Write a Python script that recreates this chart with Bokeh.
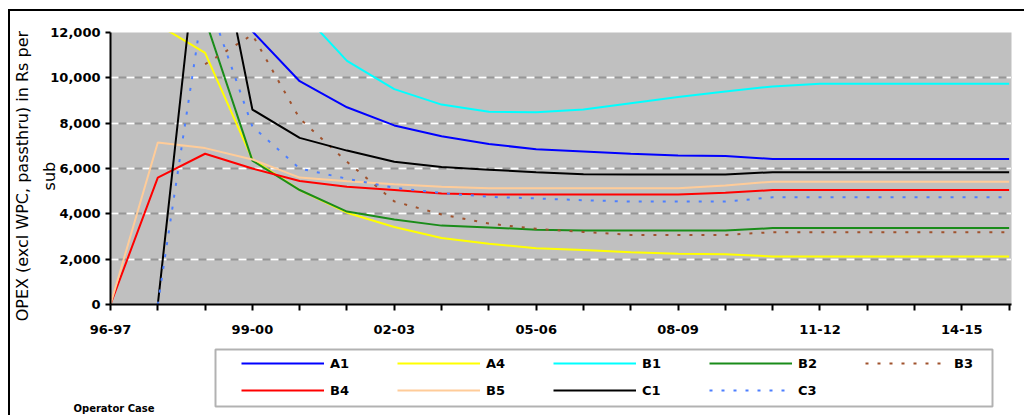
import math
from bokeh.plotting import figure
from bokeh.layouts import column
from bokeh.models import (Range1d, FixedTicker, NumeralTickFormatter, Grid, Legend, LegendItem,
                          BoxAnnotation, Label)
from bokeh.embed import file_html
from bokeh.resources import INLINE

nan = float("nan")

years = ["96-97", "97-98", "98-99", "99-00", "00-01", "01-02", "02-03", "03-04", "04-05", "05-06",
         "06-07", "07-08", "08-09", "09-10", "10-11", "11-12", "12-13", "13-14", "14-15", "15-16"]
labeled_years = ["96-97", "99-00", "02-03", "05-06", "08-09", "11-12", "14-15"]

A1 = [nan, nan, nan, 12050, 9850, 8700, 7900, 7420, 7080, 6850, 6750, 6650, 6570, 6550, 6420, 6420, 6420, 6420, 6420, 6420]
A4 = [nan, 12350, 11100, 6400, 5050, 4050, 3420, 2930, 2680, 2480, 2400, 2300, 2240, 2220, 2120, 2120, 2120, 2120, 2120, 2120]
B1 = [nan, nan, nan, nan, 13000, 10750, 9500, 8820, 8500, 8480, 8600, 8880, 9150, 9400, 9620, 9740, 9740, 9740, 9740, 9740]
B2 = [nan, nan, 12600, 6350, 5050, 4100, 3750, 3480, 3400, 3300, 3260, 3260, 3260, 3260, 3370, 3370, 3370, 3370, 3370, 3370]
B3 = [nan, nan, 10600, 11900, 8200, 6300, 4550, 3970, 3570, 3340, 3200, 3070, 3070, 3070, 3190, 3190, 3190, 3190, 3190, 3190]
B4 = [0, 5600, 6650, 6000, 5450, 5200, 5050, 4900, 4850, 4850, 4850, 4850, 4850, 4930, 5050, 5050, 5050, 5050, 5050, 5050]
B5 = [0, 7150, 6900, 6400, 5600, 5440, 5300, 5200, 5130, 5130, 5130, 5130, 5130, 5250, 5420, 5420, 5420, 5420, 5420, 5420]
C1 = [nan, 0, 19000, 8600, 7350, 6790, 6300, 6070, 5940, 5840, 5750, 5730, 5730, 5730, 5840, 5840, 5840, 5840, 5840, 5840]
C3 = [nan, 0, 13800, 7850, 6000, 5550, 5150, 4920, 4750, 4680, 4600, 4540, 4540, 4540, 4730, 4730, 4730, 4730, 4730, 4730]

series_names = ["A1", "A4", "B1", "B2", "B3", "B4", "B5", "C1", "C3"]
series_values = [A1, A4, B1, B2, B3, B4, B5, C1, C3]
series_colors = ["#0000FF", "#FFFF00", "#00FFFF", "#1A8C1A", "#A0522D", "#FF0000", "#FFCC99", "#000000", "#4D7FFF"]
series_dash = ["solid", "solid", "solid", "solid", "3 9", "solid", "solid", "solid", "3 9"]

y_ticks = [0, 2000, 4000, 6000, 8000, 10000, 12000]
grid_ticks = [2000, 4000, 6000, 8000, 10000]
y_title_lines = ["OPEX (excl WPC, passthru) in Rs per", "sub"]
footnote = "Operator Case"

x = list(range(len(years)))
tick_font = "DejaVu Sans"

W1 = 1014
W2 = 1014
H1 = 335
H2 = 415 - 11 - H1

p = figure(width=W1, height=H1, output_backend="svg", toolbar_location=None,
           x_range=Range1d(0, 19.05), y_range=Range1d(0, 12000),
           min_border_left=110, min_border_right=3, min_border_top=21, min_border_bottom=H1 - 21 - 272,
           styles={"margin-left": "-10px"})
p.background_fill_color = "#C0C0C0"
p.border_fill_alpha = 0
p.outline_line_color = None

p.xgrid.visible = False
p.ygrid[0].ticker = FixedTicker(ticks=grid_ticks)
p.ygrid[0].grid_line_color = "#969696"
p.ygrid[0].grid_line_width = 2
g2 = Grid(dimension=1, ticker=FixedTicker(ticks=grid_ticks), grid_line_color="white",
          grid_line_width=2, grid_line_dash="8 8")
p.add_layout(g2)

xa = p.xaxis[0]
xa.ticker = FixedTicker(ticks=x)
xa.major_label_overrides = {i: (years[i] if years[i] in labeled_years else "") for i in x}
xa.axis_line_width = 2
xa.axis_line_color = "black"
xa.major_tick_line_width = 2
xa.major_tick_out = 6
xa.major_tick_in = 0
xa.minor_tick_line_color = None
xa.major_label_standoff = 14
xa.major_label_text_font = tick_font
xa.major_label_text_font_style = "bold"
xa.major_label_text_font_size = "13px"
xa.major_label_text_color = "black"

ya = p.yaxis[0]
ya.ticker = FixedTicker(ticks=y_ticks)
ya.formatter = NumeralTickFormatter(format="0,0")
ya.axis_line_width = 2
ya.axis_line_color = "black"
ya.major_tick_line_width = 2
ya.major_tick_out = 5
ya.major_tick_in = 0
ya.minor_tick_line_color = None
ya.major_label_standoff = 5
ya.major_label_text_font = tick_font
ya.major_label_text_font_style = "bold"
ya.major_label_text_font_size = "13px"
ya.major_label_text_color = "black"
pad = "\u00a0" * 3
ya.axis_label = "\n".join(line + pad for line in y_title_lines)
ya.axis_label_text_font = "DejaVu Sans"
ya.axis_label_text_font_style = "normal"
ya.axis_label_text_font_size = "16px"
ya.axis_label_text_color = "black"
ya.axis_label_text_line_height = 1.42
ya.axis_label_standoff = -12

for name, vals, col, dash in zip(series_names, series_values, series_colors, series_dash):
    p.line(x, vals, line_color=col, line_width=2, line_dash=dash)

# legend panel (second figure)
p2 = figure(width=W2, height=H2, output_backend="svg", toolbar_location=None,
            x_range=Range1d(0, W2), y_range=Range1d(H2, 0),
            x_axis_location=None, y_axis_location=None, min_border=0)
p2.frame_align = False
p2.outline_line_color = None
p2.grid.visible = False
p2.background_fill_color = "white"
p2.border_fill_color = "white"

items = []
for name, vals, col, dash in zip(series_names, series_values, series_colors, series_dash):
    r = p2.line(x, vals, line_color=col, line_width=2, line_dash=dash, visible=False)
    items.append(LegendItem(label=name, renderers=[r]))

legend = Legend(items=items, orientation="horizontal", nrows=2, location=(231, 15),
                glyph_width=83, glyph_height=20, label_height=20, label_width=60,
                label_standoff=6, spacing=7, padding=0, margin=0,
                border_line_alpha=0, background_fill_alpha=0,
                inactive_fill_alpha=0,
                label_text_font=tick_font, label_text_font_style="bold",
                label_text_font_size="13px", label_text_color="black")
p2.add_layout(legend, "center")

p2.add_layout(BoxAnnotation(left=205, right=982, top=3, bottom=60,
                            fill_alpha=0, line_color="black", line_width=2))
p2.add_layout(Label(x=63, y=61.5, text=footnote, text_align="left", text_baseline="middle",
                    text_font="DejaVu Sans", text_font_style="bold", text_font_size="10px",
                    text_color="black"))

layout = column(p, p2, spacing=0,
                styles={"margin-left": "8px", "margin-top": "9px",
                        "border-left": "2px solid black", "border-top": "2px solid black"})

open("out.html", "w").write(file_html(layout, INLINE))
